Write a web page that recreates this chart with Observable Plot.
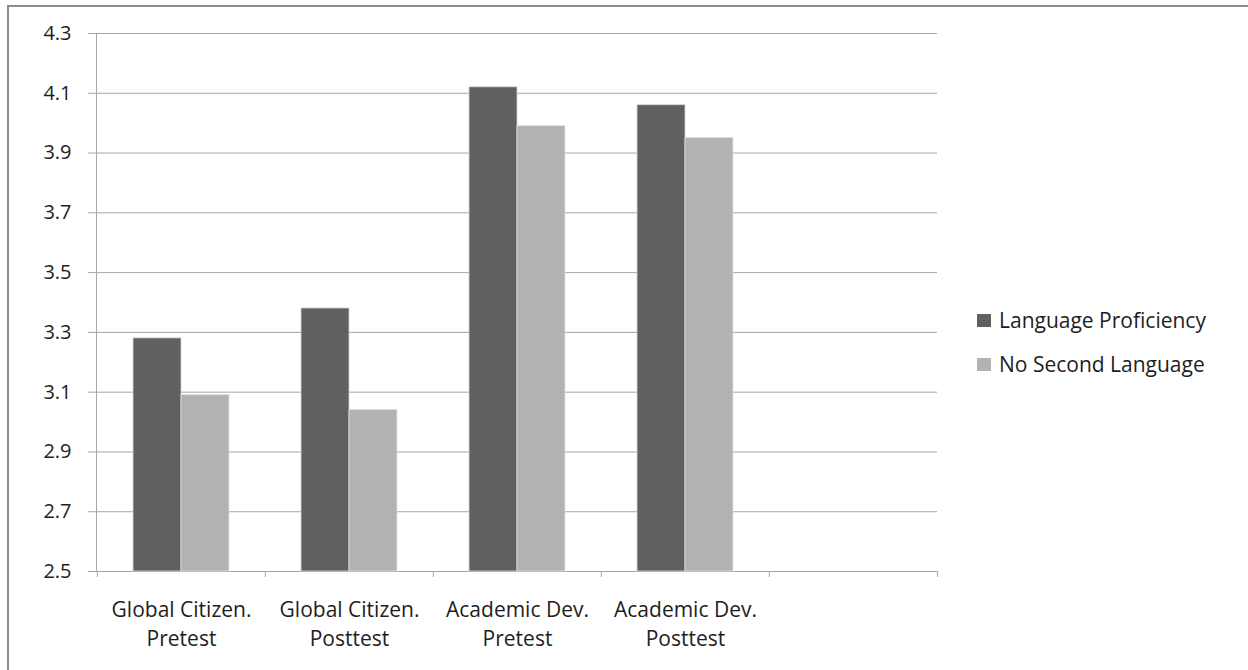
<!DOCTYPE html>
<html><head><meta charset="utf-8">
<script src="https://cdn.jsdelivr.net/npm/d3@7"></script>
<script src="https://cdn.jsdelivr.net/npm/@observablehq/plot@0.6"></script>
<style>
body{margin:0;background:#fff;width:1248px;height:670px;overflow:hidden;position:relative;font-family:"Open Sans",sans-serif;}
#frame{position:absolute;left:7px;top:5px;width:1300px;height:700px;border:2px solid #8c8c8c;box-sizing:border-box;}
#chart{position:absolute;left:0;top:0;}
#legend{position:absolute;left:977px;top:308px;font-size:21px;color:#1e1e1e;}
.item{display:flex;align-items:center;height:24px;margin-bottom:20px;white-space:nowrap}
.sw{width:14px;height:13px;margin-right:8px;flex:none}
</style></head><body>
<div id="frame"></div>
<div id="chart"></div>
<div id="legend"></div>
<script>
// ---- data ----
const categories = ["Global Citizen.\nPretest", "Global Citizen.\nPosttest", "Academic Dev.\nPretest", "Academic Dev.\nPosttest", " "];
const seriesNames = ["Language Proficiency", "No Second Language"];
const languageProficiency = [3.28, 3.38, 4.12, 4.06];
const noSecondLanguage = [3.09, 3.04, 3.99, 3.95];
const yTicks = [2.5, 2.7, 2.9, 3.1, 3.3, 3.5, 3.7, 3.9, 4.1, 4.3];
const seriesColors = ["#606060", "#b2b2b2"];

const rowsLP = languageProficiency.map((v, i) => ({category: categories[i], series: seriesNames[0], value: v}));
const rowsNSL = noSecondLanguage.map((v, i) => ({category: categories[i], series: seriesNames[1], value: v}));

const W = 960, H = 660, ML = 96, MR = 23, MT = 33, MB = 89;
const bw = (W - ML - MR) / categories.length;
const grid = "#a6a6a6";

const chart = Plot.plot({
  width: W, height: H,
  marginLeft: ML, marginRight: MR, marginTop: MT, marginBottom: MB,
  style: {fontFamily: "'Open Sans', sans-serif", fontSize: "20px", color: "#1e1e1e", background: "transparent"},
  x: {domain: categories, padding: 0, label: null},
  y: {domain: [yTicks[0], yTicks[yTicks.length - 1]], label: null},
  marks: [
    Plot.ruleY(yTicks, {stroke: grid, strokeWidth: 1}),
    Plot.frame({anchor: "left", stroke: grid}),
    Plot.barY(rowsLP, {x: "category", y1: yTicks[0], y2: "value", fill: seriesColors[0], stroke: "#d8d8d8", strokeWidth: 0.8, insetLeft: 36, insetRight: 84}),
    Plot.barY(rowsNSL, {x: "category", y1: yTicks[0], y2: "value", fill: seriesColors[1], stroke: "#e0e0e0", strokeWidth: 0.8, insetLeft: 84, insetRight: 36}),
    Plot.axisY({ticks: yTicks, tickSize: 8, tickPadding: 17, stroke: grid, fontSize: 20, tickFormat: d3.format(".1f"), label: null}),
    Plot.axisX({tickSize: 0, tickPadding: 25, fontSize: 21, lineHeight: 29 / 21, label: null}),
    Plot.axisX({tickSize: 6, tickFormat: () => "", dx: -bw / 2, stroke: grid, label: null}),
    Plot.axisX({ticks: [categories[categories.length - 1]], tickSize: 6, tickFormat: () => "", dx: bw / 2, stroke: grid, label: null})
  ]
});
document.getElementById("chart").appendChild(chart);

const legend = document.getElementById("legend");
seriesNames.forEach((name, i) => {
  const item = document.createElement("div");
  item.className = "item";
  const sw = document.createElement("span");
  sw.className = "sw";
  sw.style.background = seriesColors[i];
  const label = document.createElement("span");
  label.textContent = name;
  item.appendChild(sw);
  item.appendChild(label);
  legend.appendChild(item);
});
</script>
</body></html>
